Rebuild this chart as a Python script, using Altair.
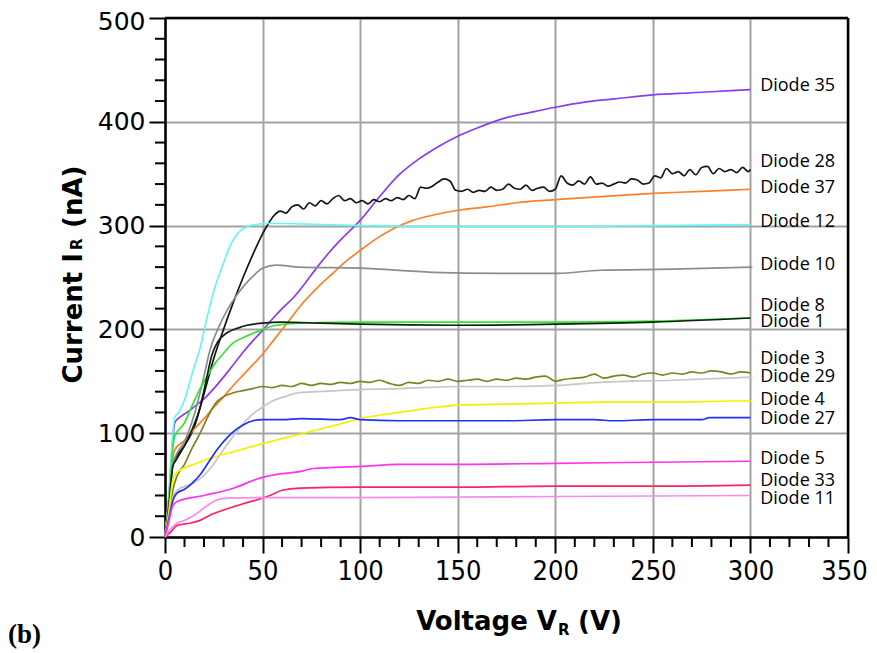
import altair as alt
import pandas as pd

# ---------------- data ----------------
NAMES = ["Diode 35", "Diode 28", "Diode 37", "Diode 12", "Diode 10", "Diode 8", "Diode 1",
         "Diode 3", "Diode 29", "Diode 4", "Diode 27", "Diode 5", "Diode 33", "Diode 11"]
COLORS = ["#8a3cf5", "#151515", "#ff7f27", "#66f6f6", "#8c8c8c", "#33e633", "#102010",
          "#808020", "#c6c6c6", "#f2f200", "#1f30ff", "#ff33ee", "#ff2266", "#ff88ee"]

V35 = [0, 2, 4, 5, 8, 12, 16, 20, 25, 30, 35, 40, 45, 50, 55, 60, 66, 72, 78, 85, 92, 100, 110, 120, 130, 140, 150, 160, 175, 190, 200, 215, 230, 250, 270, 290, 300]
I35 = [0, 40, 95, 110, 116, 121, 127, 133, 143, 154, 166, 178, 189, 199, 210, 220, 231, 245, 260, 276, 290, 305, 328, 349, 364, 376, 386, 394, 404, 410, 414, 419, 422, 426, 428, 430, 431]

V28 = [0, 2, 4, 6, 10, 15, 20, 25, 30, 35, 40, 45, 50, 53, 56, 59, 62, 65, 68, 71, 74, 77, 80, 83, 86, 89, 92, 95, 98, 101, 104, 107, 110, 113, 116, 119, 122, 125, 128, 131, 134, 137, 140, 143, 146, 149, 152, 155, 158, 161, 164, 167, 170, 173, 176, 179, 182, 185, 188, 191, 194, 197, 200, 203, 206, 209, 212, 215, 218, 221, 224, 227, 230, 233, 236, 239, 242, 245, 248, 251, 254, 257, 260, 263, 266, 269, 272, 275, 278, 281, 284, 287, 290, 293, 296, 299, 300]
I28 = [0, 30, 70, 78, 88, 106, 138, 172, 200, 226, 250, 272, 292, 302, 310, 314, 312, 318, 320, 316, 322, 319, 324, 321, 326, 329, 324, 326, 322, 324, 321, 325, 323, 326, 324, 327, 325, 329, 326, 337, 336, 338, 342, 345, 343, 334, 333, 335, 332, 334, 333, 337, 334, 335, 340, 336, 335, 339, 334, 336, 337, 333, 335, 348, 341, 339, 343, 340, 347, 340, 341, 338, 340, 342, 341, 345, 344, 340, 341, 348, 346, 355, 350, 352, 348, 354, 349, 356, 357, 350, 355, 352, 354, 351, 356, 352, 354]

V37 = [0, 2, 4, 5, 10, 15, 20, 25, 30, 35, 40, 45, 50, 55, 60, 65, 70, 78, 86, 93, 100, 108, 117, 127, 137, 151, 165, 180, 200, 223, 250, 275, 300]
I37 = [0, 35, 76, 84, 93, 104, 114, 125, 135, 146, 156, 166, 176, 188, 200, 212, 224, 240, 254, 266, 276, 287, 297, 305, 310, 315, 318, 322, 325, 328, 331, 333, 335]

V12 = [0, 2, 4, 5, 7, 10, 14, 18, 22, 26, 30, 33, 37, 42, 47, 52, 60, 80, 100, 150, 200, 250, 300]
I12 = [0, 40, 100, 115, 120, 132, 158, 182, 215, 243, 264, 279, 292, 299, 301, 302, 302, 301, 300, 299, 299, 300, 301]

V10 = [0, 2, 4, 6, 10, 15, 20, 23, 27, 32, 36, 40, 45, 50, 57, 69, 100, 137, 170, 201, 223, 260, 301]
I10 = [0, 30, 70, 80, 92, 118, 155, 180, 200, 219, 231, 241, 251, 259, 262, 260, 259, 255, 254, 254, 257, 258, 260]

V8 = [0, 2, 4, 5, 10, 14, 18, 22, 26, 30, 35, 40, 45, 50, 57, 70, 100, 150, 200, 250, 300]
I8 = [0, 35, 85, 97, 110, 127, 143, 156, 168, 177, 187, 192, 196, 200, 204, 206, 207, 207, 207, 208, 211]

V1 = [0, 2, 4, 6, 10, 14, 18, 21, 24, 27, 32, 37, 42, 50, 60, 80, 100, 150, 200, 250, 300]
I1 = [0, 30, 68, 75, 88, 104, 125, 150, 175, 188, 197, 201, 204, 206, 207, 206, 205, 204, 205, 207, 211]

V3 = [0, 2, 4, 6, 10, 14, 18, 22, 26, 30, 35, 40, 45, 50, 55, 60, 65, 70, 75, 80, 85, 90, 95, 100, 105, 110, 115, 120, 125, 130, 135, 140, 145, 150, 155, 160, 165, 170, 175, 180, 185, 190, 195, 200, 205, 210, 215, 220, 225, 230, 235, 240, 245, 250, 255, 260, 265, 270, 275, 280, 285, 290, 295, 300]
I3 = [0, 20, 45, 58, 70, 86, 100, 116, 129, 135, 139, 141, 143, 145, 144, 146, 145, 148, 146, 148, 147, 149, 148, 150, 149, 151, 148, 146, 149, 148, 151, 150, 152, 150, 151, 152, 150, 152, 151, 153, 152, 154, 155, 150, 152, 153, 154, 157, 153, 155, 156, 154, 157, 158, 156, 158, 157, 159, 158, 160, 159, 157, 159, 158]

V29 = [0, 2, 4, 6, 12, 18, 24, 31, 37, 42, 46, 50, 55, 61, 69, 78, 100, 120, 151, 180, 201, 223, 260, 301]
I29 = [0, 20, 38, 45, 50, 56, 68, 87, 102, 113, 120, 125, 131, 135, 139, 140, 142, 143, 145, 145, 146, 149, 151, 154]

V4 = [0, 2, 4, 6, 15, 25, 35, 50, 69, 86, 100, 120, 151, 175, 201, 223, 260, 290, 301]
I4 = [0, 25, 55, 62, 70, 77, 82, 90, 99, 107, 114, 120, 127, 128, 129, 130, 130, 131, 131]

V27 = [0, 2, 4, 6, 10, 14, 18, 23, 27, 32, 36, 40, 45, 50, 60, 70, 90, 95, 100, 120, 150, 175, 200, 220, 230, 250, 275, 279, 300]
I27 = [0, 18, 35, 42, 46, 52, 60, 74, 85, 96, 103, 108, 112, 113, 113, 114, 113, 115, 113, 112, 112, 112, 113, 113, 112, 113, 113, 115, 115]

V5 = [0, 2, 4, 6, 20, 35, 49, 60, 69, 76, 100, 120, 151, 200, 250, 300]
I5 = [0, 15, 30, 34, 40, 47, 57, 61, 63, 66, 68, 70, 70, 71, 72, 73]

V33 = [0, 3, 6, 12, 18, 23, 30, 40, 49, 55, 60, 69, 100, 150, 200, 250, 300]
I33 = [0, 5, 11, 13, 16, 21, 26, 32, 37, 41, 45, 47, 48, 48, 49, 49, 50]

V11 = [0, 3, 6, 10, 15, 20, 23, 27, 32, 50, 100, 200, 300]
I11 = [0, 8, 13, 16, 21, 28, 32, 36, 37.5, 38, 38, 39, 40]

SERIES = {
    "Diode 35": (V35, I35), "Diode 28": (V28, I28), "Diode 37": (V37, I37),
    "Diode 12": (V12, I12), "Diode 10": (V10, I10), "Diode 8": (V8, I8),
    "Diode 1": (V1, I1), "Diode 3": (V3, I3), "Diode 29": (V29, I29),
    "Diode 4": (V4, I4), "Diode 27": (V27, I27), "Diode 5": (V5, I5),
    "Diode 33": (V33, I33), "Diode 11": (V11, I11),
}

# label positions (V, I) of the curve names at the right
LABEL_V = 305
LABEL_I = [434.5, 361, 336.5, 303, 262.5, 223, 207, 171.5, 154.6, 132, 114, 75, 54.4, 37]

X_MAJOR = [0, 50, 100, 150, 200, 250, 300, 350]
Y_MAJOR = [0, 100, 200, 300, 400, 500]
X_MINOR = [v for v in range(0, 351, 10) if v % 50 != 0]
Y_MINOR = [v for v in range(0, 501, 20) if v % 100 != 0]

# ---------------- build tables ----------------
rows = []
for name, (vs, cs) in SERIES.items():
    for k, (v, c) in enumerate(zip(vs, cs)):
        rows.append({"diode": name, "V": v, "I": c, "k": k})
df = pd.DataFrame(rows)
lab = pd.DataFrame({"diode": NAMES, "V": [LABEL_V] * len(NAMES), "I": LABEL_I})

W, H = 683, 519

xscale = alt.Scale(domain=[0, 350], nice=False, zero=True)
yscale = alt.Scale(domain=[0, 500], nice=False, zero=True)

xaxis = alt.Axis(values=X_MAJOR, title=None, grid=True, gridColor="#a3a3a3", gridWidth=2,
                 tickSize=16, tickWidth=2, tickColor="black", domainColor="black",
                 domainWidth=2.5, labelFont="DejaVu Sans Condensed", labelFontSize=27,
                 labelColor="black", labelPadding=5, labelFlush=False, labelOverlap=False,
                 labelOffset=alt.ExprRef("datum.value == 350 ? -4 : 0"))
yaxis = alt.Axis(values=Y_MAJOR, title=None, grid=True, gridColor="#a3a3a3", gridWidth=2,
                 tickSize=16, tickWidth=2, tickColor="black", domainColor="black",
                 domainWidth=2.5, labelFont="DejaVu Sans", labelFontSize=25,
                 labelColor="black", labelPadding=4, labelFlush=False, labelOverlap=False,
                 labelOffset=alt.ExprRef("datum.value == 500 ? 3 : 0"))

lines = alt.Chart(df).mark_line(strokeWidth=1.7, interpolate="monotone").encode(
    x=alt.X("V:Q", scale=xscale, axis=xaxis),
    y=alt.Y("I:Q", scale=yscale, axis=yaxis),
    color=alt.Color("diode:N", scale=alt.Scale(domain=NAMES, range=COLORS), legend=None),
    order=alt.Order("k:Q"),
)

labels = alt.Chart(lab).mark_text(align="left", baseline="middle", font="Open Sans",
                                  fontSize=18, color="black").encode(
    x=alt.X("V:Q", scale=xscale), y=alt.Y("I:Q", scale=yscale), text="diode:N")

xminor = alt.Chart(pd.DataFrame({"v": X_MINOR})).mark_rule(color="black", strokeWidth=2).encode(
    x=alt.X("v:Q", scale=xscale), y=alt.value(H), y2=alt.value(H + 10))
yminor = alt.Chart(pd.DataFrame({"v": Y_MINOR})).mark_rule(color="black", strokeWidth=2).encode(
    y=alt.Y("v:Q", scale=yscale), x=alt.value(-10), x2=alt.value(0))

frame_r = alt.Chart(pd.DataFrame({"x": [350], "y0": [0], "y1": [500]})).mark_rule(
    color="black", strokeWidth=2.5).encode(
    x=alt.X("x:Q", scale=xscale), y=alt.Y("y0:Q", scale=yscale), y2="y1:Q")
frame_t = alt.Chart(pd.DataFrame({"y": [500], "x0": [0], "x1": [350]})).mark_rule(
    color="black", strokeWidth=2.5).encode(
    y=alt.Y("y:Q", scale=yscale), x=alt.X("x0:Q", scale=xscale), x2="x1:Q")

one = pd.DataFrame({"a": [0]})
TF = dict(font="DejaVu Sans", fontWeight="bold", color="black")


def txt(text, x, y, size, **kw):
    return alt.Chart(one).mark_text(text=text, fontSize=size, **TF, **kw).encode(
        x=alt.value(x), y=alt.value(y))


ytitle = [
    txt("Current I", -83, 235, 26, angle=270, align="right", baseline="alphabetic"),
    txt("R", -83, 232, 15, angle=270, align="left", baseline="alphabetic"),
    txt("(nA)", -83, 210, 26, angle=270, align="left", baseline="alphabetic"),
]
xtitle = [
    txt("Voltage V", 392, 612, 26, align="right", baseline="alphabetic"),
    txt("R", 393, 617, 15, align="left", baseline="alphabetic"),
    txt("(V)", 413, 612, 26, align="left", baseline="alphabetic"),
]
tag = alt.Chart(one).mark_text(text="(b)", font="Liberation Serif", fontWeight="bold",
                               fontSize=27, color="black", align="left",
                               baseline="middle").encode(x=alt.value(-157), y=alt.value(617))

chart = alt.layer(lines, xminor, yminor, frame_r, frame_t, labels, *ytitle, *xtitle, tag).properties(
    width=W, height=H,
    autosize=alt.AutoSizeParams(type="none"),
    padding={"left": 157, "top": 10, "right": 20, "bottom": 115},
).configure_view(stroke=None)

chart.save("out.html", embed_options={"renderer": "svg", "actions": False})
